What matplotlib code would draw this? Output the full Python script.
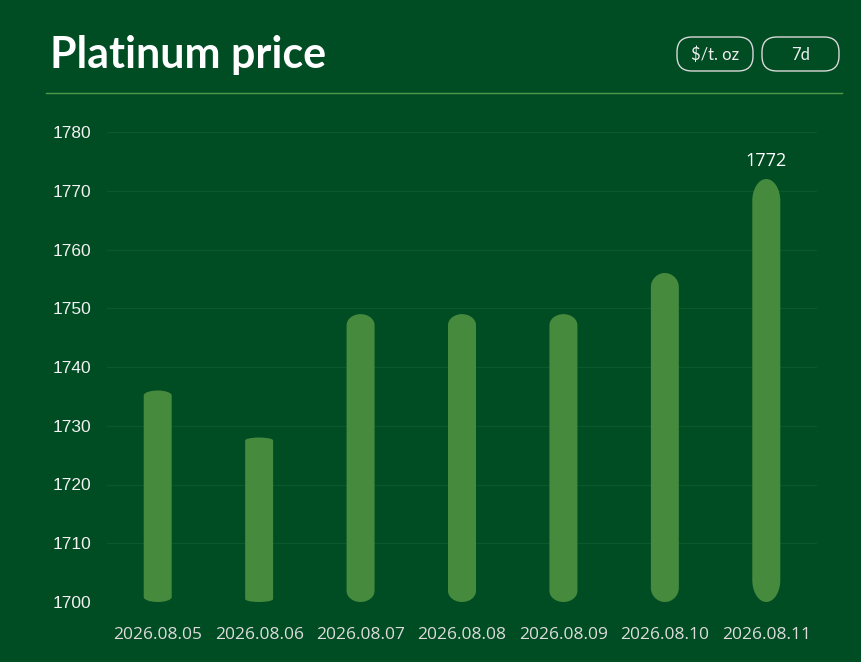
import matplotlib
matplotlib.use("Agg")
import matplotlib.pyplot as plt
from matplotlib.path import Path
from matplotlib.patches import PathPatch, FancyBboxPatch

# data
dates = ['2026.08.05', '2026.08.06', '2026.08.07', '2026.08.08',
         '2026.08.09', '2026.08.10', '2026.08.11']
prices = [1736, 1728, 1749, 1749, 1749, 1756, 1772]
y_ticks = [1700, 1710, 1720, 1730, 1740, 1750, 1760, 1770, 1780]
units = ['$/t. oz', '7d']

bg = '#004c23'
bar_color = '#468a3e'
grid_color = '#0b592b'
base = 1700


def rounded_bar(x, top, bottom, w, ry):
    # bar with elliptical caps on both ends
    rx = w / 2
    k = 0.5523
    l, r = x - rx, x + rx
    verts = [
        (l, bottom + ry),
        (l, top - ry),
        (l, top - ry + k * ry), (x - k * rx, top), (x, top),
        (x + k * rx, top), (r, top - ry + k * ry), (r, top - ry),
        (r, bottom + ry),
        (r, bottom + ry - k * ry), (x + k * rx, bottom), (x, bottom),
        (x - k * rx, bottom), (l, bottom + ry - k * ry), (l, bottom + ry),
        (l, bottom + ry),
    ]
    codes = [Path.MOVETO, Path.LINETO] + [Path.CURVE4] * 6 + [Path.LINETO] + [Path.CURVE4] * 6 + [Path.CLOSEPOLY]
    return Path(verts, codes)


fig = plt.figure(figsize=(8.62, 6.62), dpi=100)
fig.patch.set_facecolor(bg)

ax = fig.add_axes([107 / 862, 1 - 602 / 662, 710 / 862, 470 / 662])
ax.set_facecolor(bg)
ax.set_xlim(-0.5, len(dates) - 0.5)
ax.set_ylim(base, 1780)

for i, p in enumerate(prices):
    h = p - base
    ry = max(0.5, 0.08 * (h - 25.5))
    patch = PathPatch(rounded_bar(i, p, base, 0.276, ry), facecolor=bar_color,
                      edgecolor='none', zorder=3)
    ax.add_patch(patch)

imax = prices.index(max(prices))
ax.annotate(str(prices[imax]), xy=(imax, prices[imax]), xytext=(0, 6.5),
            textcoords='offset points', ha='center', va='bottom',
            color='white', fontsize=13, family='Open Sans', zorder=4)

ax.set_yticks(y_ticks)
ax.set_yticklabels([str(t) for t in y_ticks], family='Liberation Sans',
                   fontsize=12.5, color='#f2f2f2')
ax.set_xticks(range(len(dates)))
ax.set_xticklabels(dates, family='Open Sans', fontsize=12.5, color='#dcdcdc')
ax.tick_params(axis='y', length=0, pad=11.5)
ax.tick_params(axis='x', length=0, pad=18)
ax.yaxis.grid(True, color=grid_color, lw=1)
ax.set_axisbelow(True)
for s in ax.spines.values():
    s.set_visible(False)

# header overlay in pixel coordinates
oa = fig.add_axes([0, 0, 1, 1])
oa.set_xlim(0, 862)
oa.set_ylim(662, 0)
oa.axis('off')

oa.text(50, 68, 'Platinum price', fontsize=31, weight='bold', family='Lato',
        color='white', va='baseline', ha='left')
oa.plot([46, 842], [93, 93], color='#4f9a4a', lw=1)

boxes = [(677, 76), (762, 77)]
for (bx, bw), label in zip(boxes, units):
    oa.add_patch(FancyBboxPatch((bx, 37), bw, 34,
                                boxstyle='round,pad=0,rounding_size=15',
                                fc='none', ec='#d9d9d9', lw=1.0))
    oa.text(bx + bw / 2, 54.5, label, fontsize=12, family='Lato', color='#eeeeee',
            ha='center', va='center')

fig.savefig('out.png', dpi=100, facecolor=bg)
